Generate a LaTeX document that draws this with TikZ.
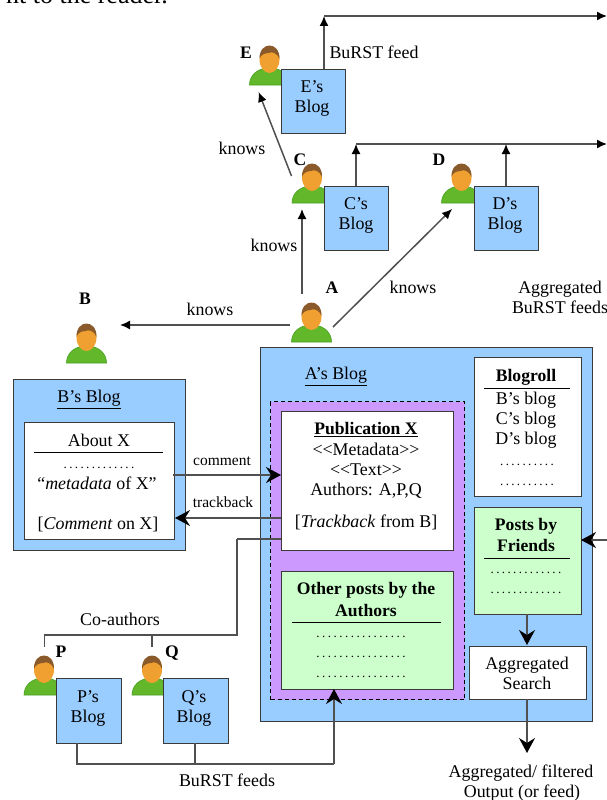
\documentclass[tikz,border=0pt]{standalone}
\usepackage{fontspec}
\setmainfont{Liberation Serif}
\usetikzlibrary{arrows.meta,calc}
\definecolor{blogblue}{HTML}{99CCFF}
\definecolor{pubpurple}{HTML}{CC99FF}
\definecolor{postgreen}{HTML}{CCFFCC}
\definecolor{edgegray}{HTML}{3A3A3A}
\definecolor{linkgray}{HTML}{505050}
\definecolor{bodygreen}{HTML}{62B82A}
\definecolor{bodyedge}{HTML}{45A020}
\definecolor{skin}{HTML}{F0A030}
\definecolor{hair}{HTML}{8A5A2A}
\newcommand\dotrow[1]{\hbox to #1pt{\xleaders\hbox to 5.6pt{\hss\fontsize{13}{13}\selectfont.\hss}\hfill}}
\tikzset{
  x=1pt,y=-1pt,
  panel/.style={draw=edgegray,line width=1.3pt,anchor=north west,inner sep=0pt,rectangle},
  blog/.style={panel,fill=blogblue},
  white box/.style={panel,fill=white},
  green box/.style={panel,fill=postgreen},
  sized/.style n args={2}{minimum width=#1pt,minimum height=#2pt},
  lab/.style={inner sep=0pt,font=\fontsize{17.9}{20}\selectfont,text height=15pt,text depth=4pt,anchor=center},
  head/.style={lab,font=\fontsize{17.6}{20}\selectfont\bfseries},
  rulebar/.style={black,line width=1pt},
  link/.style={draw=linkgray,line width=1.5pt},
  up/.style={link,-{Latex[length=10pt,width=9pt,black]}},
  bigtip/.style={link,-{Stealth[length=15pt,width=16pt,inset=5pt,black]}},
  person/.pic={
    \fill[fill=bodygreen,draw=bodyedge,line width=.6pt]
      (-20,0) .. controls (-20,-9) and (-13,-17) .. (0,-17)
      .. controls (13,-17) and (20,-9) .. (20,0) -- cycle;
    \fill[skin] (0,-25.5) ellipse [x radius=10,y radius=13.5];
    \fill[hair] (-10,-26) .. controls (-10.5,-44) and (10.5,-44) .. (10,-26)
      .. controls (8,-32) and (2,-34) .. (-1,-32) .. controls (-5,-32) and (-9,-30) .. (-10,-26) -- cycle;
  }
}
\begin{document}
\begin{tikzpicture}
\useasboundingbox (0,0) rectangle (607,800);
\clip (0,0) rectangle (607,800);
\fill[white] (0,0) rectangle (607,800);
\node[inner sep=0pt,anchor=base east,font=\fontsize{26}{28}\selectfont] (intro) at (168,4) {nt to the reader.};
% people
\pic at (269.5,85) {person};
\pic at (312,203) {person};
\pic at (461.5,203) {person};
\pic at (311.5,342) {person};
\pic at (86.5,363) {person};
\pic at (44,695) {person};
\pic at (152,695) {person};
% small blogs
\node[blog,sized={64}{64}] (eblog) at (281,69) {};
\node[blog,sized={64}{64}] (cblog) at (324,186) {};
\node[blog,sized={64}{64}] (dblog) at (474,186) {};
\node[blog,sized={65}{65}] (pblog) at (56,678) {};
\node[blog,sized={65}{65}] (qblog) at (163,678) {};
\node[lab] (et1) at (312,87) {E’s};  \node[lab] (et2) at (312,107) {Blog};
\node[lab] (ct1) at (356,204) {C’s}; \node[lab] (ct2) at (356,224) {Blog};
\node[lab] (dt1) at (505,204) {D’s}; \node[lab] (dt2) at (505,224) {Blog};
\node[lab] (pt1) at (88,697) {P’s};  \node[lab] (pt2) at (88,717) {Blog};
\node[lab] (qt1) at (194,697) {Q’s}; \node[lab] (qt2) at (194,717) {Blog};
% B's blog
\node[blog,sized={172}{171}] (bblog) at (13,379) {};
\node[white box,sized={150}{117}] (about) at (24,422) {};
\node[lab] (bt) at (89,397) {\underline{B’s Blog}};
\node[lab] (aboutx) at (99,441) {About X};
\draw[rulebar] (34,452) -- (163,452);
\node[lab] (bd) at (99,462.5) {\dotrow{73}};
\node[lab] (meta) at (97,484) {“\textit{metadata} of X”};
\node[lab] (cmt) at (98,524) {[\textit{Comment} on X]};
% A's blog
\node[blog,sized={332}{374}] (ablog) at (260,347) {};
\node[lab] (at) at (336,374) {\underline{A’s Blog}};
\node[panel,fill=pubpurple,draw=black,dash pattern=on 4pt off 3pt,sized={194}{298}] (group) at (270,401) {};
\node[white box,sized={172}{139}] (pub) at (281,411) {};
\node[head] (pubt) at (366,429) {\underline{Publication X}};
\node[lab] (pm) at (366,450) {<{}<Metadata>{}>};
\node[lab] (pt) at (366,470) {<{}<Text>{}>};
\node[lab] (pa) at (366,490) {Authors: A,P,Q};
\node[lab] (ptb) at (366,522) {[\textit{Trackback} from B]};
\node[green box,sized={172}{118}] (other) at (281,571) {};
\node[head] (ot1) at (366,589) {Other posts by the};
\node[head] (ot2) at (366,611) {Authors};
\draw[rulebar] (291.5,622) -- (441,622);
\node[lab] (od1) at (361,631.5) {\dotrow{92}};
\node[lab] (od2) at (361,651.5) {\dotrow{92}};
\node[lab] (od3) at (361,671.5) {\dotrow{92}};
\node[white box,sized={107}{139}] (roll) at (474,357) {};
\node[head] (rt) at (526,376) {Blogroll};
\draw[rulebar] (484,388) -- (570,388);
\node[lab] (r1) at (526,399) {B’s blog};
\node[lab] (r2) at (526,419) {C’s blog};
\node[lab] (r3) at (526,439) {D’s blog};
\node[lab] (r4) at (527,459.5) {\dotrow{56}};
\node[lab] (r5) at (527,479.5) {\dotrow{56}};
\node[green box,sized={107}{107}] (friends) at (474,507) {};
\node[head] (f1) at (526,525) {Posts by};
\node[head] (f2) at (526,546) {Friends};
\draw[rulebar] (484,558) -- (570,558);
\node[lab] (fd1) at (526,567.5) {\dotrow{73}};
\node[lab] (fd2) at (526,587.5) {\dotrow{73}};
\node[white box,sized={117}{53}] (search) at (469,646) {};
\node[lab] (s1) at (527,664) {Aggregated};
\node[lab] (s2) at (527,684) {Search};
% free ends
\coordinate (efeedend) at (607,16);
\coordinate (cfeedend) at (607,144);
\coordinate (eout) at (324,69);
\coordinate (etop) at (324,16);
\coordinate (cout) at (356,186);
\coordinate (ctop) at (356,144);
\coordinate (dout) at (506,186);
\coordinate (dtop) at (506,144);
\coordinate (ep) at (258.6,92);
\coordinate (cpa) at (291.5,176);
\coordinate (cpb) at (302,209);
\coordinate (ap1) at (302,294);
\coordinate (ap2) at (333,327);
\coordinate (dp) at (452,209);
\coordinate (ap3) at (290,325);
\coordinate (bp) at (120,325);
\coordinate (pp) at (44.5,647);
\coordinate (qp) at (152,647);
\coordinate (coL) at (44.5,635);
\coordinate (coR) at (237,635);
\coordinate (coT) at (237,539);
\coordinate (pubL) at (281,539);
\coordinate (cmA) at (173,475);
\coordinate (cmB) at (281,475);
\coordinate (tbA) at (281,518);
\coordinate (tbB) at (175,518);
\coordinate (fin) at (607,540);
\coordinate (fin2) at (581,540);
\coordinate (pout) at (77,743);
\coordinate (qout) at (195,743);
\coordinate (busP) at (77,764);
\coordinate (busQ) at (195,764);
\coordinate (busE) at (334,764);
\coordinate (otherIn) at (334,689);
\coordinate (fs1) at (527,614);
\coordinate (fs2) at (527,645);
\coordinate (ss1) at (527,699);
\coordinate (ss2) at (527,753);
% connectors
\draw[up] (eout) -- (etop);
\draw[up] (etop) -- (efeedend);
\draw[up] (cout) -- (ctop);
\draw[up] (ctop) -- (cfeedend);
\draw[up] (dout) -- (dtop);
\draw[up] (cpa) -- (ep);
\draw[up] (ap1) -- (cpb);
\draw[up] (ap2) -- (dp);
\draw[up] (ap3) -- (bp);
\draw[link] (coT) -- (pubL);
\draw[link] (coT) -- (coR) -- (coL) -- (pp);
\draw[link] (qp) -- ($(qp)+(0,-12)$);
\draw[bigtip] (cmA) -- (cmB);
\draw[bigtip] (tbA) -- (tbB);
\draw[bigtip] (fin) -- (fin2);
\draw[link] (pout) -- (busP) -- (busE);
\draw[link] (qout) -- (busQ);
\draw[bigtip] (busE) -- (otherIn);
\draw[bigtip] (fs1) -- (fs2);
\draw[bigtip] (ss1) -- (ss2);
% labels
\node[head] (le) at (246,53) {E};
\node[lab] (bf) at (374,53) {BuRST feed};
\node[lab] (k1) at (242,149) {knows};
\node[head] (lc) at (300,160) {C};
\node[head] (ld) at (439,160) {D};
\node[lab] (k2) at (274,246) {knows};
\node[head] (la) at (332,288) {A};
\node[lab] (k3) at (413,288) {knows};
\node[lab] (ag1) at (560,288) {Aggregated};
\node[lab] (ag2) at (560,308) {BuRST feeds};
\node[head] (lb) at (85,299) {B};
\node[lab] (k4) at (210,310) {knows};
\node[lab,font=\fontsize{15.5}{18}\selectfont] (lcm) at (222,460) {comment};
\node[lab,font=\fontsize{15.5}{18}\selectfont] (ltb) at (223,502) {trackback};
\node[lab] (co) at (120,620) {Co-authors};
\node[head] (lp) at (61,652) {P};
\node[head] (lq) at (172,652) {Q};
\node[lab] (bfs) at (227,781) {BuRST feeds};
\node[lab] (o1) at (521,772) {Aggregated/ filtered};
\node[lab] (o2) at (522,792) {Output (or feed)};
\end{tikzpicture}
\end{document}
